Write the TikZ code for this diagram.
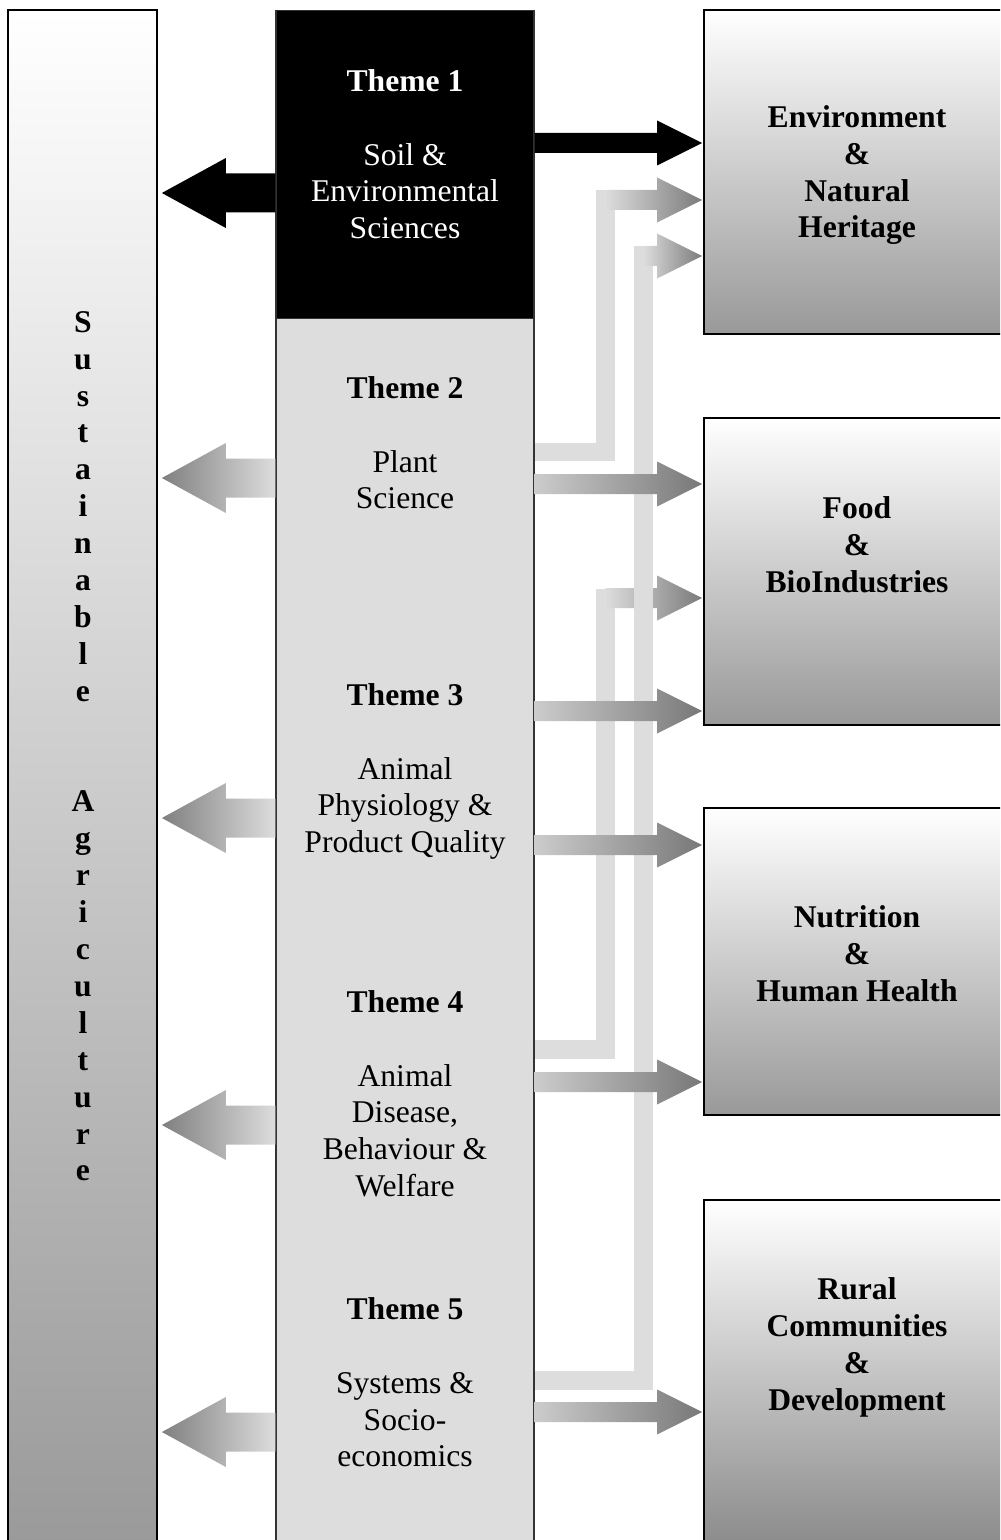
\documentclass[tikz,border=0pt]{standalone}
\usepackage{fontspec}
\setmainfont{Liberation Serif}
\usetikzlibrary{calc,positioning}

\definecolor{colgrey}{HTML}{DDDDDD}

% block arrows: #1 style, #2 start, #3 tip
\newcommand{\rightblock}[3]{%
  \path[#1] ($(#2)+(0,-10)$) -- ($(#3)+(-46,-10)$) -- ($(#3)+(-46,-22.5)$)
    -- ($(#3)+(-1,0)$) -- ($(#3)+(-46,22.5)$) -- ($(#3)+(-46,10)$) -- ($(#2)+(0,10)$) -- cycle;}
\newcommand{\leftblock}[3]{%
  \path[#1] ($(#2)+(0,-19.5)$) -- ($(#3)+(68,-19.5)$) -- ($(#3)+(68,-35)$)
    -- ($(#3)+(4,0)$) -- ($(#3)+(68,35)$) -- ($(#3)+(68,19.5)$) -- ($(#2)+(0,19.5)$) -- cycle;}

\tikzset{
  txt/.style={align=center, inner sep=0pt, font=\fontsize{18}{21}\selectfont},
  hd/.style={txt, font=\fontsize{18}{21}\selectfont\bfseries},
  colbox/.style={draw=black!80, line width=0.8pt, minimum width=5.16cm, inner sep=0pt, anchor=north},
  outbox/.style={draw=black, line width=1pt, top color=white, bottom color=black!40, minimum width=6.12cm, inner sep=0pt},
  route/.style={draw=colgrey, line width=0.38cm, line join=miter},
  darkarrow/.style={fill=black},
  greyright/.style={left color=black!20, right color=black!53},
  greyleft/.style={left color=black!50, right color=colgrey},
  fadearrow/.style={left color=colgrey, right color=black!52}
}

\begin{document}
\begin{tikzpicture}[x=0.02cm, y=-0.02cm]
\clip (0,0) rectangle (1000,1540);

% left bar
\node[outbox, minimum width=2.98cm, minimum height=31cm] (sust) at (82.5,785) {};
\node[hd, anchor=north] (sustxt) at (83,311) {S\\u\\s\\t\\a\\i\\n\\a\\b\\l\\e\\[42pt]A\\g\\r\\i\\c\\u\\l\\t\\u\\r\\e};

% theme column
\node[colbox, fill=black, minimum height=6.16cm] (coltop) at (405,10) {};
\node[colbox, fill=colgrey, minimum height=24.84cm] (colbody) at (405,318) {};

\node[txt, anchor=north, text=white] (th1) at (405,69) {\textbf{Theme 1}\\[21pt]Soil \&\\Environmental\\Sciences};
\node[txt, anchor=north] (th2) at (405,376) {\textbf{Theme 2}\\[21pt]Plant\\Science};
\node[txt, anchor=north] (th3) at (405,683) {\textbf{Theme 3}\\[21pt]Animal\\Physiology \&\\Product Quality};
\node[txt, anchor=north] (th4) at (405,990) {\textbf{Theme 4}\\[21pt]Animal\\Disease,\\Behaviour \&\\Welfare};
\node[txt, anchor=north] (th5) at (405,1297) {\textbf{Theme 5}\\[21pt]Systems \&\\Socio-\\economics};

% outcome boxes
\node[outbox, minimum height=6.48cm] (env) at (857,172) {};
\node[outbox, minimum height=6.14cm] (food) at (857,571.5) {};
\node[outbox, minimum height=6.14cm] (nutr) at (857,961.5) {};
\node[outbox, minimum height=7.6cm, bottom color=black!50] (rural) at (857,1390) {};

\node[hd, anchor=north] (envtxt) at (857,105) {Environment\\\&\\Natural\\Heritage};
\node[hd, anchor=north] (foodtxt) at (857,496) {Food\\\&\\BioIndustries};
\node[hd, anchor=north] (nutrtxt) at (857,905) {Nutrition\\\&\\Human Health};
\node[hd, anchor=north] (ruraltxt) at (857,1277) {Rural\\Communities\\\&\\Development};

% routed links
\coordinate (k1) at (605.5,200);
\coordinate (k2) at (643.5,256);
\coordinate (k3) at (605.5,598);
\draw[route] (colbody.east |- 0,1049) -| ($(k3)+(0,-9.5)$);
\rightblock{fadearrow}{k3}{food.west |- k3}
\draw[route] (colbody.east |- 0,452) -| ($(k1)+(0,-9.5)$);
\rightblock{fadearrow}{k1}{env.west |- k1}
\draw[route] (colbody.east |- 0,1380) -| ($(k2)+(0,-9.5)$);
\rightblock{fadearrow}{k2}{env.west |- k2}

% links to the left bar
\leftblock{darkarrow}{coltop.west |- 0,193}{sust.east |- 0,193}
\leftblock{greyleft}{colbody.west |- 0,478}{sust.east |- 0,478}
\leftblock{greyleft}{colbody.west |- 0,818}{sust.east |- 0,818}
\leftblock{greyleft}{colbody.west |- 0,1125}{sust.east |- 0,1125}
\leftblock{greyleft}{colbody.west |- 0,1432}{sust.east |- 0,1432}

% links to the outcome boxes
\rightblock{darkarrow}{coltop.east |- 0,143}{env.west |- 0,143}
\rightblock{greyright}{colbody.east |- 0,484}{food.west |- 0,484}
\rightblock{greyright}{colbody.east |- 0,711}{food.west |- 0,711}
\rightblock{greyright}{colbody.east |- 0,845}{nutr.west |- 0,845}
\rightblock{greyright}{colbody.east |- 0,1082}{nutr.west |- 0,1082}
\rightblock{greyright}{colbody.east |- 0,1412}{rural.west |- 0,1412}
\end{tikzpicture}
\end{document}
